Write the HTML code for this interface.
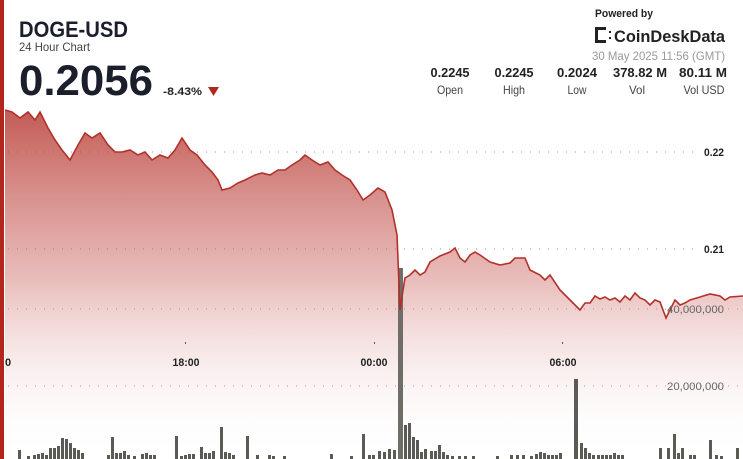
<!DOCTYPE html>
<html><head><meta charset="utf-8"><style>
body{margin:0;width:743px;height:459px;overflow:hidden;background:#fff;font-family:"Liberation Sans",sans-serif;}
svg{position:absolute;left:0;top:0}
</style></head><body>
<svg width="743" height="459" viewBox="0 0 743 459">
<defs>
<linearGradient id="g" x1="0" y1="100" x2="0" y2="459" gradientUnits="userSpaceOnUse">
<stop offset="0" stop-color="#b5362f" stop-opacity="0.85"/>
<stop offset="0.5" stop-color="#c9605a" stop-opacity="0.42"/>
<stop offset="1" stop-color="#ffffff" stop-opacity="0"/>
</linearGradient>
</defs>
<rect x="0" y="0" width="743" height="459" fill="#fff"/>
<g stroke="#999" stroke-width="1" stroke-dasharray="1 8">
<line x1="8" y1="152" x2="700" y2="152"/>
<line x1="8" y1="249" x2="700" y2="249"/>
<line x1="8" y1="309" x2="743" y2="309"/>
<line x1="8" y1="386" x2="743" y2="386"/>
</g>
<path d="M5,110 L12,112 20,118 28,112 35,120 40,112 48,128 55,140 62,150 70,160 78,145 85,133 92,138 100,133 108,145 115,152 122,152 130,150 138,155 145,152 152,160 160,155 168,158 175,150 182,138 190,150 197,155 205,165 212,172 218,180 222,190 230,188 238,183 245,180 255,175 262,173 270,175 278,170 285,170 292,165 300,160 305,155 312,160 320,165 328,162 335,170 342,175 350,180 357,190 363,200 370,195 378,188 385,192 392,210 397,235 400,310 403,290 405,278 410,275 415,270 420,275 425,272 430,262 440,256 450,252 455,248 460,258 465,262 470,255 475,252 480,255 490,262 500,265 510,263 515,258 525,258 530,270 540,275 545,280 550,275 560,290 570,300 580,310 585,303 590,303 595,296 600,299 605,297 610,300 615,298 620,302 625,296 630,300 635,293 640,298 645,300 650,305 655,300 660,302 666,318 670,310 675,300 680,305 685,303 690,300 700,297 710,294 720,296 725,300 730,297 743,296 L743,459 L5,459 Z" fill="url(#g)"/>
<g fill="#5b5b55">
<rect x="18" y="450" width="3" height="9"/><rect x="27" y="456" width="3" height="3"/><rect x="33" y="455" width="3" height="4"/><rect x="37" y="454" width="3" height="5"/><rect x="41" y="453" width="3" height="6"/><rect x="45" y="455" width="3" height="4"/><rect x="49" y="448" width="3" height="11"/><rect x="53" y="448" width="3" height="11"/><rect x="57" y="446" width="3" height="13"/><rect x="61" y="438" width="3" height="21"/><rect x="65" y="439" width="3" height="20"/><rect x="69" y="443" width="3" height="16"/><rect x="73" y="448" width="3" height="11"/><rect x="77" y="450" width="3" height="9"/><rect x="81" y="453" width="3" height="6"/>
<rect x="107" y="455" width="3" height="4"/><rect x="111" y="437" width="3" height="22"/><rect x="115" y="453" width="3" height="6"/><rect x="119" y="453" width="3" height="6"/><rect x="123" y="451" width="3" height="8"/><rect x="127" y="455" width="3" height="4"/><rect x="133" y="456" width="3" height="3"/><rect x="141" y="454" width="3" height="5"/><rect x="145" y="453" width="3" height="6"/><rect x="149" y="455" width="3" height="4"/><rect x="153" y="455" width="3" height="4"/>
<rect x="175" y="436" width="3" height="23"/><rect x="180" y="456" width="3" height="3"/><rect x="184" y="455" width="3" height="4"/><rect x="188" y="454" width="3" height="5"/><rect x="192" y="454" width="3" height="5"/><rect x="200" y="447" width="3" height="12"/><rect x="204" y="453" width="3" height="6"/><rect x="208" y="453" width="3" height="6"/><rect x="212" y="451" width="3" height="8"/><rect x="220" y="427" width="3" height="32"/><rect x="224" y="452" width="3" height="7"/><rect x="228" y="453" width="3" height="6"/><rect x="232" y="455" width="3" height="4"/><rect x="246" y="436" width="3" height="23"/><rect x="256" y="455" width="3" height="4"/><rect x="268" y="455" width="3" height="4"/><rect x="272" y="456" width="3" height="3"/><rect x="283" y="456" width="3" height="3"/>
<rect x="330" y="454" width="3" height="5"/><rect x="350" y="456" width="3" height="3"/><rect x="362" y="434" width="3" height="25"/><rect x="368" y="455" width="3" height="4"/><rect x="372" y="455" width="3" height="4"/><rect x="378" y="451" width="3" height="8"/><rect x="383" y="452" width="3" height="7"/><rect x="388" y="449" width="3" height="10"/><rect x="393" y="450" width="3" height="9"/>
<rect x="398" y="268" width="5" height="191" fill="#6e6d66"/>
<rect x="404" y="425" width="3" height="34"/><rect x="408" y="423" width="3" height="36"/><rect x="412" y="437" width="3" height="22"/><rect x="416" y="440" width="3" height="19"/><rect x="420" y="452" width="3" height="7"/><rect x="424" y="449" width="3" height="10"/><rect x="430" y="451" width="3" height="8"/><rect x="434" y="451" width="3" height="8"/><rect x="438" y="445" width="3" height="14"/><rect x="442" y="452" width="3" height="7"/><rect x="446" y="455" width="3" height="4"/><rect x="451" y="456" width="3" height="3"/><rect x="458" y="456" width="3" height="3"/><rect x="464" y="456" width="3" height="3"/><rect x="472" y="456" width="3" height="3"/><rect x="496" y="456" width="3" height="3"/><rect x="510" y="455" width="3" height="4"/><rect x="516" y="455" width="3" height="4"/><rect x="522" y="455" width="3" height="4"/><rect x="530" y="456" width="3" height="3"/><rect x="535" y="454" width="3" height="5"/><rect x="539" y="452" width="3" height="7"/><rect x="543" y="453" width="3" height="6"/><rect x="547" y="455" width="3" height="4"/><rect x="551" y="455" width="3" height="4"/><rect x="555" y="455" width="3" height="4"/><rect x="559" y="453" width="3" height="6"/>
<rect x="574" y="379" width="4" height="80"/><rect x="580" y="443" width="3" height="16"/><rect x="584" y="448" width="3" height="11"/><rect x="588" y="453" width="3" height="6"/><rect x="592" y="455" width="3" height="4"/><rect x="597" y="455" width="3" height="4"/><rect x="601" y="455" width="3" height="4"/><rect x="605" y="455" width="3" height="4"/><rect x="609" y="455" width="3" height="4"/><rect x="613" y="453" width="3" height="6"/><rect x="617" y="455" width="3" height="4"/><rect x="621" y="455" width="3" height="4"/>
<rect x="659" y="448" width="3" height="11"/><rect x="667" y="448" width="3" height="11"/><rect x="673" y="434" width="3" height="25"/><rect x="677" y="453" width="3" height="6"/><rect x="681" y="448" width="3" height="11"/><rect x="689" y="455" width="3" height="4"/><rect x="693" y="455" width="3" height="4"/><rect x="709" y="440" width="3" height="19"/><rect x="715" y="455" width="3" height="4"/><rect x="720" y="456" width="3" height="3"/><rect x="736" y="448" width="3" height="11"/>
</g>
<path d="M5,110 L12,112 20,118 28,112 35,120 40,112 48,128 55,140 62,150 70,160 78,145 85,133 92,138 100,133 108,145 115,152 122,152 130,150 138,155 145,152 152,160 160,155 168,158 175,150 182,138 190,150 197,155 205,165 212,172 218,180 222,190 230,188 238,183 245,180 255,175 262,173 270,175 278,170 285,170 292,165 300,160 305,155 312,160 320,165 328,162 335,170 342,175 350,180 357,190 363,200 370,195 378,188 385,192 392,210 397,235 400,310 403,290 405,278 410,275 415,270 420,275 425,272 430,262 440,256 450,252 455,248 460,258 465,262 470,255 475,252 480,255 490,262 500,265 510,263 515,258 525,258 530,270 540,275 545,280 550,275 560,290 570,300 580,310 585,303 590,303 595,296 600,299 605,297 610,300 615,298 620,302 625,296 630,300 635,293 640,298 645,300 650,305 655,300 660,302 666,318 670,310 675,300 680,305 685,303 690,300 700,297 710,294 720,296 725,300 730,297 743,296" fill="none" stroke="#b3302a" stroke-width="1.6"/>
<g fill="#555"><rect x="185" y="342" width="1" height="2"/><rect x="374" y="342" width="1" height="2"/><rect x="562" y="342" width="1" height="2"/></g>
<g font-size="11" font-weight="bold" fill="#222" text-anchor="middle">
<text x="8" y="366">0</text><text x="186" y="366" textLength="27" lengthAdjust="spacingAndGlyphs">18:00</text><text x="374" y="366" textLength="27" lengthAdjust="spacingAndGlyphs">00:00</text><text x="563" y="366" textLength="27" lengthAdjust="spacingAndGlyphs">06:00</text>
</g>
<g font-size="11" text-anchor="end">
<text x="724" y="156" font-weight="bold" fill="#222" textLength="20" lengthAdjust="spacingAndGlyphs">0.22</text>
<text x="724" y="253" font-weight="bold" fill="#222" textLength="20" lengthAdjust="spacingAndGlyphs">0.21</text>
<text x="724" y="313" fill="#666" textLength="57" lengthAdjust="spacingAndGlyphs">40,000,000</text>
<text x="724" y="390" fill="#666" textLength="57" lengthAdjust="spacingAndGlyphs">20,000,000</text>
</g>
<rect x="0" y="0" width="4" height="459" fill="#b3261e"/>
<text x="19" y="37" font-size="22" font-weight="bold" fill="#1a1f2b" textLength="109" lengthAdjust="spacingAndGlyphs">DOGE-USD</text>
<text x="19" y="51" font-size="12" fill="#444" textLength="71" lengthAdjust="spacingAndGlyphs">24 Hour Chart</text>
<text x="19" y="95" font-size="43" font-weight="bold" fill="#1a1f2b" textLength="134" lengthAdjust="spacingAndGlyphs">0.2056</text>
<text x="163" y="95" font-size="11" font-weight="bold" fill="#222" textLength="39" lengthAdjust="spacingAndGlyphs">-8.43%</text>
<polygon points="208,87 219,87 213.5,96" fill="#b3261e"/>
<g text-anchor="middle" fill="#222">
<g font-size="13" font-weight="bold"><text x="450" y="77" textLength="39" lengthAdjust="spacingAndGlyphs">0.2245</text><text x="514" y="77" textLength="39" lengthAdjust="spacingAndGlyphs">0.2245</text><text x="577" y="77" textLength="40" lengthAdjust="spacingAndGlyphs">0.2024</text><text x="640" y="77" textLength="54" lengthAdjust="spacingAndGlyphs">378.82 M</text><text x="703" y="77" textLength="48" lengthAdjust="spacingAndGlyphs">80.11 M</text></g>
<g font-size="12" fill="#444"><text x="450" y="94" textLength="26" lengthAdjust="spacingAndGlyphs">Open</text><text x="514" y="94" textLength="22" lengthAdjust="spacingAndGlyphs">High</text><text x="577" y="94" textLength="19" lengthAdjust="spacingAndGlyphs">Low</text><text x="637" y="94" textLength="16" lengthAdjust="spacingAndGlyphs">Vol</text><text x="704" y="94" textLength="41" lengthAdjust="spacingAndGlyphs">Vol USD</text></g>
</g>
<text x="595" y="17" font-size="11" font-weight="bold" fill="#222" textLength="58" lengthAdjust="spacingAndGlyphs">Powered by</text>
<g fill="#222"><rect x="595" y="27" width="3" height="16"/><rect x="598" y="27" width="8" height="3"/><rect x="598" y="40" width="8" height="3"/><rect x="609" y="31" width="2" height="2"/><rect x="609" y="37" width="2" height="2"/></g>
<text x="614" y="42" font-size="17" font-weight="bold" fill="#222" textLength="111" lengthAdjust="spacingAndGlyphs">CoinDeskData</text>
<text x="725" y="60" font-size="12" fill="#999" text-anchor="end" textLength="133" lengthAdjust="spacingAndGlyphs">30 May 2025 11:56 (GMT)</text>
</svg>
</body></html>
